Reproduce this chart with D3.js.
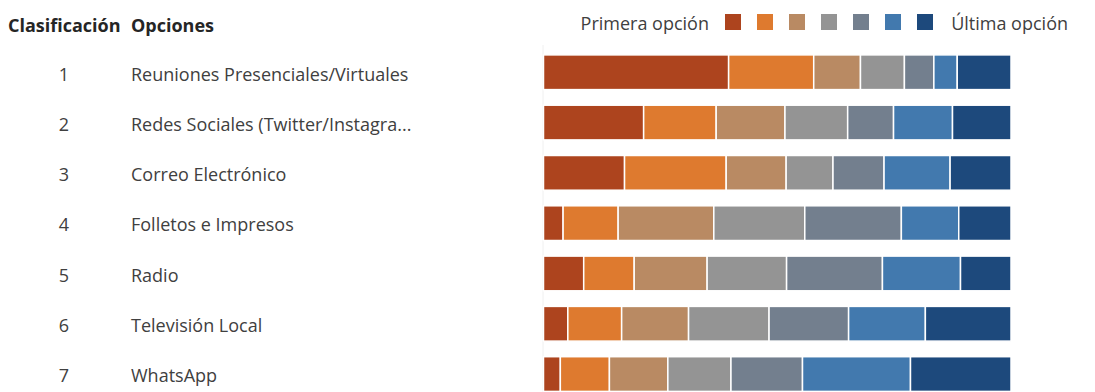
<!DOCTYPE html>
<html>
<head>
<meta charset="utf-8">
<script src="https://cdn.jsdelivr.net/npm/d3@7"></script>
<style>
  body { margin: 0; background: #fff; }
  svg { font-family: "Open Sans", "Noto Sans", sans-serif; }
</style>
</head>
<body>
<div id="chart"></div>
<script>
// ranks and options
const ranks = [1, 2, 3, 4, 5, 6, 7];
const options = [
     'Reuniones Presenciales/Virtuales',
     'Redes Sociales (Twitter/Instagra...',
     'Correo Electrónico',
     'Folletos e Impresos',
     'Radio',
     'Televisión Local',
     'WhatsApp'
];
// share of each ranking position (1st choice .. last choice), in percent
const pos1 = [39.6, 21.4, 17.3, 4.2, 8.6, 5.2, 3.6];
const pos2 = [18.2, 15.5, 21.7, 11.8, 10.8, 11.5, 10.5];
const pos3 = [10.0, 14.7, 12.8, 20.5, 15.6, 14.3, 12.5];
const pos4 = [9.4, 13.4, 10.0, 19.5, 17.0, 17.2, 13.5];
const pos5 = [6.3, 9.8, 10.9, 20.7, 20.5, 17.0, 15.3];
const pos6 = [5.0, 12.6, 14.1, 12.3, 16.7, 16.4, 23.1];
const pos7 = [11.5, 12.5, 13.0, 11.2, 10.8, 18.3, 21.5];
const seriesKeys = ['p1', 'p2', 'p3', 'p4', 'p5', 'p6', 'p7'];
const legendLeft = 'Primera opción';
const legendRight = 'Última opción';

const colors = ['#AD441E', '#DE7A2F', '#B98A63', '#949494', '#737F8E', '#4279AE', '#1D497C'];

const width = 1095;
const height = 392;

window.onload = function() {

     const rows = ranks.map((r, i) => ({
          rank: r,
          option: options[i],
          p1: pos1[i], p2: pos2[i], p3: pos3[i], p4: pos4[i],
          p5: pos5[i], p6: pos6[i], p7: pos7[i]
     }));

     const stacked = d3.stack()
          .keys(seriesKeys)
          .offset(d3.stackOffsetExpand)(rows);

     const svg = d3.select('#chart')
          .append('svg')
               .attr('width', width)
               .attr('height', height);

     const xScale = d3.scaleLinear()
          .domain([0, 1])
          .range([543.5, 1011]);

     const yScale = d3.scaleBand()
          .domain(ranks)
          .range([47.1, 399.2])
          .paddingInner(0.31)
          .paddingOuter(0.155);

     const colourScale = d3.scaleOrdinal()
          .domain(seriesKeys)
          .range(colors);

     // headers
     svg.append('text')
          .attr('x', 8)
          .attr('y', 32)
          .attr('font-size', 18)
          .attr('font-weight', 'bold')
          .attr('fill', '#252525')
          .text('Clasificación');
     svg.append('text')
          .attr('x', 131)
          .attr('y', 32)
          .attr('font-size', 18)
          .attr('font-weight', 'bold')
          .attr('fill', '#252525')
          .text('Opciones');

     // legend
     const legend = svg.append('g');
     legend.append('text')
          .attr('x', 709)
          .attr('y', 30)
          .attr('text-anchor', 'end')
          .attr('font-size', 18)
          .attr('fill', '#404040')
          .text(legendLeft);
     legend.selectAll('rect')
          .data(seriesKeys)
          .enter()
               .append('rect')
                    .attr('x', (d, i) => 725 + i * 32)
                    .attr('y', 14)
                    .attr('width', 16)
                    .attr('height', 16)
                    .attr('fill', (d) => colourScale(d));
     legend.append('text')
          .attr('x', 1068)
          .attr('y', 30)
          .attr('text-anchor', 'end')
          .attr('font-size', 18)
          .attr('fill', '#404040')
          .text(legendRight);

     // faint baseline
     svg.append('line')
          .attr('x1', xScale(0) - 0.5)
          .attr('x2', xScale(0) - 0.5)
          .attr('y1', 45)
          .attr('y2', height)
          .attr('stroke', '#f0f0f0');

     // row labels
     const labels = svg.append('g');
     labels.selectAll('.rank')
          .data(rows)
          .enter()
               .append('text')
                    .attr('class', 'rank')
                    .attr('x', 64)
                    .attr('y', (d) => yScale(d.rank) + yScale.bandwidth() / 2 + 2)
                    .attr('dy', '0.35em')
                    .attr('text-anchor', 'middle')
                    .attr('font-size', 18)
                    .attr('fill', '#404040')
                    .text((d) => d.rank);
     labels.selectAll('.option')
          .data(rows)
          .enter()
               .append('text')
                    .attr('class', 'option')
                    .attr('x', 131)
                    .attr('y', (d) => yScale(d.rank) + yScale.bandwidth() / 2 + 2)
                    .attr('dy', '0.35em')
                    .attr('font-size', 18)
                    .attr('fill', '#404040')
                    .text((d) => d.option);

     // stacked bars
     svg.append('g')
          .selectAll('g')
          .data(stacked)
          .enter()
               .append('g')
                    .attr('fill', (d) => colourScale(d.key))
               .selectAll('rect')
               .data((d) => d)
               .enter()
                    .append('rect')
                         .attr('x', (d) => xScale(d[0]))
                         .attr('y', (d) => yScale(d.data.rank))
                         .attr('width', (d) => xScale(d[1]) - xScale(d[0]))
                         .attr('height', yScale.bandwidth())
                         .attr('stroke', '#fff')
                         .attr('stroke-width', 1.5);
};
</script>
</body>
</html>
